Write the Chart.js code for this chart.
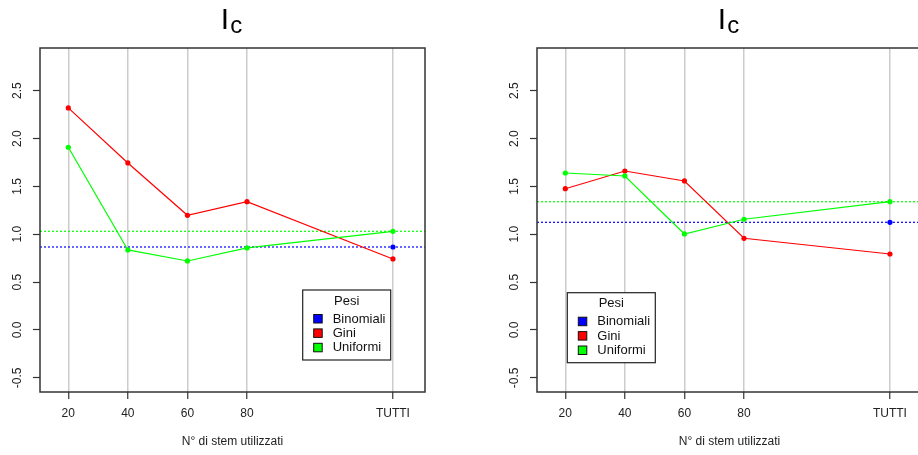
<!DOCTYPE html>
<html>
<head>
<meta charset="utf-8">
<title>Ic per numero di stem</title>
<script src="https://cdn.jsdelivr.net/npm/chart.js@4.4.1/dist/chart.umd.min.js"></script>
<style>
  html, body { margin: 0; padding: 0; background: #fff; overflow: hidden; }
  #wrap { position: relative; width: 918px; height: 455px; overflow: hidden; }
  canvas { position: absolute; top: 0; }
  #c1 { left: 0; }
  #c2 { left: 497px; }
</style>
</head>
<body>
<div id="wrap">
  <canvas id="c1" width="497" height="455"></canvas>
  <canvas id="c2" width="497" height="455"></canvas>
</div>
<script>
// x positions of the stem counts and their labels
const xTicks = [20, 40, 60, 80, 129];
const xTickLabels = ['20', '40', '60', '80', 'TUTTI'];
const yTicks = [-0.5, 0, 0.5, 1, 1.5, 2, 2.5];

const seriesNames = ['Binomiali', 'Gini', 'Uniformi'];
const seriesColors = ['#0000FF', '#FF0000', '#00FF00'];

// first panel
const giniLeft = [2.32, 1.745, 1.198, 1.34, 0.742];
const uniformiLeft = [1.909, 0.836, 0.721, 0.857, 1.031];
const binomialiLeft = 0.867;

// second panel
const giniRight = [1.476, 1.661, 1.557, 0.958, 0.794];
const uniformiRight = [1.64, 1.609, 1.003, 1.157, 1.34];
const binomialiRight = 1.125;

const FONT = '"Liberation Sans", Arial, Helvetica, sans-serif';
Chart.defaults.font.family = FONT;
Chart.defaults.color = '#222';

const X_MIN = 10.5, X_MAX = 139.76;
const Y_MIN = -0.648, Y_MAX = 2.946;

// plot frame, "Pesi" legend and the I_c title
const panelDecor = {
  id: 'panelDecor',
  afterDatasetsDraw(chart, args, opts) {
    const { ctx, chartArea: a } = chart;
    ctx.save();
    ctx.strokeStyle = '#333';
    ctx.lineWidth = 1.5;
    ctx.strokeRect(a.left, a.top, a.right - a.left, a.bottom - a.top);

    const lx = a.left + opts.legendX, ly = a.top + opts.legendY, lw = 88, lh = 70;
    ctx.fillStyle = '#fff';
    ctx.fillRect(lx, ly, lw, lh);
    ctx.strokeStyle = '#222';
    ctx.lineWidth = 1.2;
    ctx.strokeRect(lx, ly, lw, lh);
    ctx.font = '13px ' + FONT;
    ctx.fillStyle = '#111';
    ctx.textAlign = 'center';
    ctx.textBaseline = 'middle';
    ctx.fillText('Pesi', lx + lw / 2, ly + 11);
    ctx.textAlign = 'left';
    seriesNames.forEach((name, i) => {
      const cy = ly + 28.5 + i * 14.4;
      ctx.fillStyle = seriesColors[i];
      ctx.fillRect(lx + 11, cy - 4, 8.5, 8.5);
      ctx.strokeStyle = '#111';
      ctx.lineWidth = 1;
      ctx.strokeRect(lx + 11, cy - 4, 8.5, 8.5);
      ctx.fillStyle = '#111';
      ctx.fillText(name, lx + 30, cy + 0.5);
    });

    // title I with subscript c
    const cx = (a.left + a.right) / 2 - 1;
    ctx.font = '30px ' + FONT;
    const wI = ctx.measureText('I').width;
    ctx.font = '24px ' + FONT;
    const wc = ctx.measureText('c').width;
    const x0 = cx - (wI + wc + 1) / 2;
    ctx.fillStyle = '#000';
    ctx.textBaseline = 'alphabetic';
    ctx.font = '30px ' + FONT;
    ctx.fillText('I', x0, 28.5);
    ctx.font = '24px ' + FONT;
    ctx.fillText('c', x0 + wI + 1, 33.3);
    ctx.restore();
  }
};

function points(values) {
  return xTicks.map((x, i) => ({ x: x, y: values[i] }));
}

function makePanel(canvasId, gini, uniformi, binomiali, legendX, legendY) {
  const last = xTicks.length - 1;
  const uniformRef = uniformi[last];
  return new Chart(document.getElementById(canvasId), {
    type: 'line',
    data: {
      datasets: [
        {
          label: 'Uniformi',
          data: points(uniformi),
          borderColor: seriesColors[2], backgroundColor: seriesColors[2],
          borderWidth: 1.2, pointRadius: 2.6, pointBorderWidth: 0, tension: 0, order: 1
        },
        {
          label: 'Gini',
          data: points(gini),
          borderColor: seriesColors[1], backgroundColor: seriesColors[1],
          borderWidth: 1.2, pointRadius: 2.6, pointBorderWidth: 0, tension: 0, order: 2
        },
        {
          label: 'Binomiali',
          data: [{ x: xTicks[last], y: binomiali }],
          borderColor: seriesColors[0], backgroundColor: seriesColors[0],
          showLine: false, pointRadius: 2.6, pointBorderWidth: 0, order: 0
        },
        {
          label: 'Binomiali (livello)',
          data: [{ x: X_MIN, y: binomiali }, { x: X_MAX, y: binomiali }],
          borderColor: seriesColors[0], borderWidth: 1.2, borderDash: [2, 2],
          pointRadius: 0, order: 3
        },
        {
          label: 'Uniformi (livello)',
          data: [{ x: X_MIN, y: uniformRef }, { x: X_MAX, y: uniformRef }],
          borderColor: seriesColors[2], borderWidth: 1.2, borderDash: [2, 2],
          pointRadius: 0, order: 3
        }
      ]
    },
    options: {
      responsive: false,
      animation: false,
      events: [],
      layout: { padding: { top: 48, left: 0, right: 72, bottom: 0 } },
      plugins: {
        legend: { display: false },
        tooltip: { enabled: false },
        panelDecor: { legendX: legendX, legendY: legendY }
      },
      scales: {
        x: {
          type: 'linear',
          min: X_MIN, max: X_MAX,
          afterBuildTicks: (scale) => { scale.ticks = xTicks.map(v => ({ value: v })); },
          afterFit: (scale) => { scale.height = 63; },
          ticks: {
            autoSkip: false, maxRotation: 0, padding: 7,
            font: { size: 12 }, color: '#222',
            callback: (value, index) => xTickLabels[index]
          },
          grid: {
            color: '#cccccc', lineWidth: 1.5,
            drawTicks: true, tickLength: 7, tickColor: '#333', tickWidth: 1.2
          },
          border: { display: false },
          title: {
            display: true, text: 'N° di stem utilizzati',
            font: { size: 12 }, color: '#222', padding: { top: 0, bottom: 6 }
          }
        },
        y: {
          type: 'linear',
          min: Y_MIN, max: Y_MAX,
          afterBuildTicks: (scale) => { scale.ticks = yTicks.map(v => ({ value: v })); },
          afterFit: (scale) => { scale.width = 40; },
          ticks: {
            minRotation: 90, maxRotation: 90, crossAlign: 'center', padding: 5,
            autoSkip: false, font: { size: 12 }, color: '#222',
            callback: (value) => value.toFixed(1)
          },
          grid: {
            drawOnChartArea: false, drawTicks: true, tickLength: 7,
            tickColor: '#333', tickWidth: 1.2
          },
          border: { display: false }
        }
      }
    },
    plugins: [panelDecor]
  });
}

makePanel('c1', giniLeft, uniformiLeft, binomialiLeft, 262.7, 242);
makePanel('c2', giniRight, uniformiRight, binomialiRight, 30.3, 244.7);
</script>
</body>
</html>
